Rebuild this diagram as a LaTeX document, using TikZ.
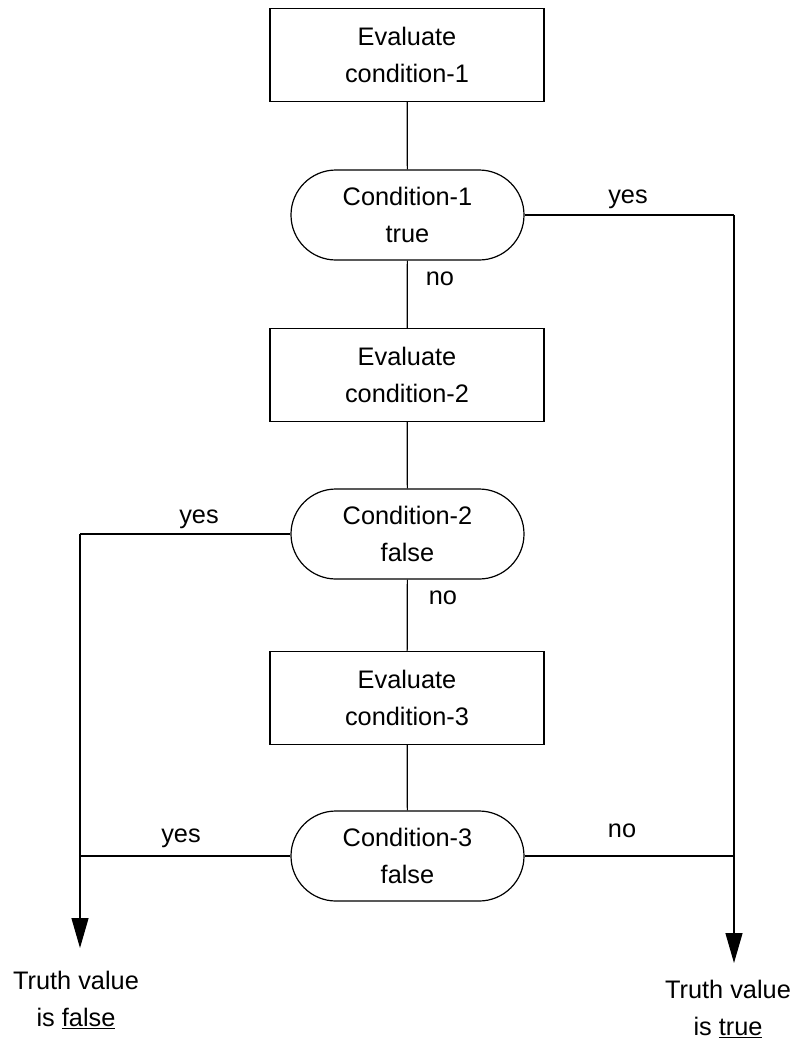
\documentclass[tikz,border=0pt]{standalone}
\usepackage{fontspec}
\setmainfont{Liberation Sans}
\usetikzlibrary{arrows.meta}
\begin{document}
\begin{tikzpicture}[x=0.75pt,y=-0.75pt,
  every node/.style={font=\fontsize{19}{27.75}\selectfont, align=center, inner sep=0pt},
  evalbox/.style={draw, line width=0.9pt, minimum width=205.5pt, minimum height=69.75pt},
  condbox/.style={draw, line width=0.9pt, minimum width=174.75pt, minimum height=67.5pt, rounded corners=33.7pt},
  conn/.style={line width=0.9pt},
  arr/.style={line width=0.9pt, -{Triangle[length=22.5pt,width=12.75pt]}},
  lbl/.style={}]
\useasboundingbox (0,0) rectangle (794,1040);
\node[evalbox] (e1) at (407,55) {Evaluate\\condition-1};
\node[condbox] (c1) at (407.5,215) {Condition-1\\true};
\node[evalbox] (e2) at (407,375) {Evaluate\\condition-2};
\node[condbox] (c2) at (407.5,534) {Condition-2\\false};
\node[evalbox] (e3) at (407,698) {Evaluate\\condition-3};
\node[condbox] (c3) at (407.5,856) {Condition-3\\false};

\coordinate (r1) at (734,215);
\coordinate (r3) at (734,856);
\coordinate (rend) at (734,963);
\coordinate (l2) at (80,534);
\coordinate (l3) at (80,856);
\coordinate (lend) at (80,948);

\draw[conn] (e1) -- (c1);
\draw[conn] (c1) -- (e2);
\draw[conn] (e2) -- (c2);
\draw[conn] (c2) -- (e3);
\draw[conn] (e3) -- (c3);
\draw[conn] (c1.east) -- (r1);
\draw[arr] (r1) -- (rend);
\draw[conn] (c3.east) -- (r3);
\draw[conn] (c2.west) -- (l2);
\draw[arr] (l2) -- (lend);
\draw[conn] (c3.west) -- (l3);

\node[lbl] (y1) at (628,199) {yes};
\node[lbl] (n1) at (440,279) {no};
\node[lbl] (y2) at (199,519) {yes};
\node[lbl] (n2) at (443,598) {no};
\node[lbl] (y3) at (181,838) {yes};
\node[lbl] (n3) at (622,831) {no};

\node[lbl] (tf) at (76,1000) {Truth value\\is \underline{false}};
\node[lbl] (tt) at (728,1009) {Truth value\\is \underline{true}};
\end{tikzpicture}
\end{document}
